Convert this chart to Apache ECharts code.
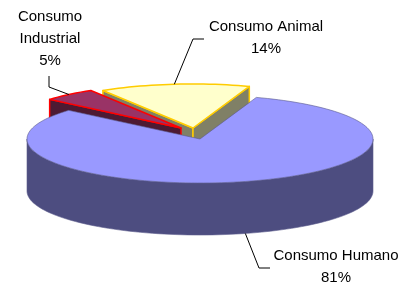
<!DOCTYPE html>
<html>
<head>
<meta charset="utf-8">
<script src="https://cdn.jsdelivr.net/npm/echarts@6/dist/echarts.min.js"></script>
<style>
html, body { margin: 0; padding: 0; background: #fff; }
#mychart { width: 403px; height: 285px; }
</style>
</head>
<body>
<div id="mychart"></div>
<script>
// datos
var names = ['Consumo Humano', 'Consumo Industrial', 'Consumo Animal'];
var values = [81, 5, 14];
var labelTexts = ['Consumo Humano', 'Consumo\nIndustrial', 'Consumo Animal'];

// estilo de cada porcion
var topColors = ['#9999FF', '#993366', '#FFFFCC'];
var sideColors = ['#4D4D80', '#4D1A33', '#808066'];
var borderColors = ['#5A5A8C', '#FF0000', '#FFCC00'];
var borderWidths = [0.6, 1.5, 1.5];
var explode = [[0, 0], [-19, -11], [-7, -11]];
var zRank = [30, 20, 10];

// posicion de etiquetas y codo de la linea guia
var labelPos = [[336, 267], [50, 39], [266, 38]];
var elbows = [[[259, 268], [270, 268]], [[49, 87], [49, 76]], [[193, 39], [204, 39]]];

// geometria del pastel 3D
var cx = 200, cy = 139, rx = 173, ry = 44, depth = 52, startAngle = 19;

var total = 0;
for (var i = 0; i < values.length; i++) total += values[i];
var angles = [];
var acc = startAngle;
for (var i = 0; i < values.length; i++) {
    var a = acc;
    acc += values[i] / total * 360;
    angles.push([a, acc]);
}

function pt(deg, off, down) {
    var r = deg * Math.PI / 180;
    return [cx + rx * Math.sin(r) + off[0], cy - ry * Math.cos(r) + off[1] + (down || 0)];
}
function arc(a, b, off, down) {
    var pts = [];
    var n = Math.max(2, Math.ceil((b - a) / 2));
    for (var k = 0; k <= n; k++) {
        pts.push(pt(a + (b - a) * k / n, off, down));
    }
    return pts;
}

function renderItem(params, api) {
    var i = params.dataIndex;
    var a = angles[i][0], b = angles[i][1];
    var off = explode[i];
    var apex = [cx + off[0], cy + off[1]];
    var apexD = [apex[0], apex[1] + depth];
    var z = zRank[i];
    var children = [];
    var wallStyle = {
        fill: sideColors[i], stroke: borderColors[i], lineWidth: borderWidths[i], lineJoin: 'round'
    };

    // pared radial inicial
    if (Math.sin(a * Math.PI / 180) < 0) {
        children.push({
            type: 'polygon', z2: z,
            shape: { points: [apex, pt(a, off), pt(a, off, depth), apexD] },
            style: wallStyle
        });
    }
    // pared radial final
    if (Math.sin(b * Math.PI / 180) > 0) {
        children.push({
            type: 'polygon', z2: z,
            shape: { points: [apex, pt(b, off), pt(b, off, depth), apexD] },
            style: wallStyle
        });
    }
    // pared exterior (solo la parte frontal)
    var fronts = [[90, 270], [450, 630]];
    for (var f = 0; f < fronts.length; f++) {
        var s = Math.max(a, fronts[f][0]), e = Math.min(b, fronts[f][1]);
        if (e > s) {
            var up = arc(s, e, off, 0);
            var dn = arc(s, e, off, depth).reverse();
            children.push({
                type: 'polygon', z2: z + 1,
                shape: { points: up.concat(dn) },
                style: wallStyle
            });
        }
    }
    // cara superior
    children.push({
        type: 'polygon', z2: z + 2,
        shape: { points: [apex].concat(arc(a, b, off, 0)) },
        style: { fill: topColors[i], stroke: borderColors[i], lineWidth: borderWidths[i], lineJoin: 'round' }
    });

    // linea guia desde el punto medio del arco
    var mid = (a + b) / 2;
    var front = Math.cos(mid * Math.PI / 180) < 0;
    var start = pt(mid, off, front ? depth : 0);
    children.push({
        type: 'polyline', z2: 50,
        shape: { points: [start, elbows[i][0], elbows[i][1]] },
        style: { stroke: '#000', lineWidth: 1, fill: null }
    });

    // etiqueta
    var pct = Math.round(api.value(0) / total * 100) + '%';
    children.push({
        type: 'text', z2: 60,
        x: labelPos[i][0], y: labelPos[i][1],
        style: {
            text: labelTexts[i] + '\n' + pct,
            fill: '#000',
            fontSize: 15,
            fontFamily: 'Liberation Sans, Arial, sans-serif',
            align: 'center',
            verticalAlign: 'middle',
            lineHeight: 22
        }
    });

    return { type: 'group', children: children };
}

var myChart = echarts.init(document.getElementById('mychart'));
myChart.setOption({
    backgroundColor: '#fff',
    animation: false,
    series: [{
        type: 'custom',
        coordinateSystem: 'none',
        renderItem: renderItem,
        data: values.map(function (v, i) { return { name: names[i], value: [v] }; })
    }]
});
</script>
</body>
</html>
